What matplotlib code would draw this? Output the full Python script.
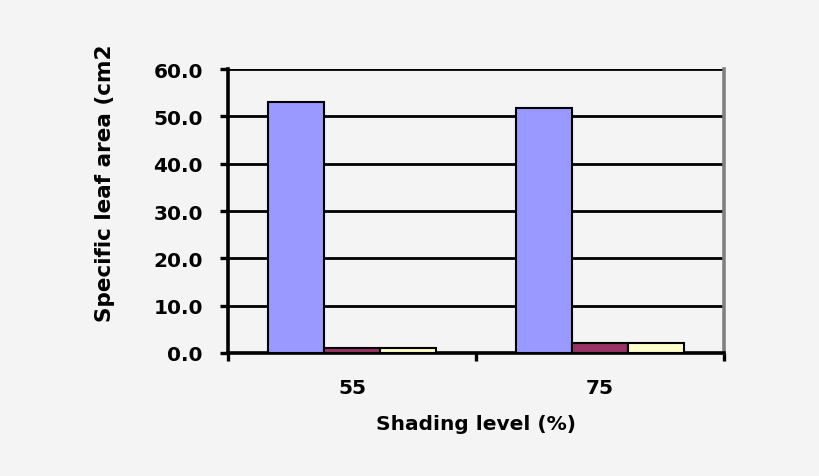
import numpy as np
import matplotlib
matplotlib.use("Agg")
import matplotlib.pyplot as plt

# datos
categorias = ["55", "75"]
serie_a = [53.0, 51.8]
serie_b = [1.0, 2.0]
serie_c = [1.0, 2.0]
colores = ["#9999FF", "#993366", "#FFFFCC"]
y_ticks = [0, 10, 20, 30, 40, 50, 60]

fondo = "#F4F4F4"
fs = 14.5

fig = plt.figure(figsize=(8.2, 4.77), dpi=100, facecolor=fondo)
ax = fig.add_axes([0.278, 0.258, 0.605, 0.595], facecolor=fondo)

x = np.arange(len(categorias)) + 0.5
ancho = 0.225
for k, serie in enumerate([serie_a, serie_b, serie_c]):
    ax.bar(x + (k - 1) * ancho, serie, width=ancho, color=colores[k],
           edgecolor="black", linewidth=1.5, zorder=3)

# grilla horizontal
for v in y_ticks[1:]:
    ax.axhline(v, color="black", linewidth=2.0, zorder=1)

ax.set_xlim(0, len(categorias))
ax.set_ylim(0, 60)
ax.set_yticks(y_ticks)
ax.set_yticklabels([f"{v:.1f}" for v in y_ticks], fontsize=fs, fontweight="bold")
ax.set_xticks(np.arange(len(categorias) + 1))
ax.set_xticklabels([])
ax.set_xticks(x, minor=True)
ax.set_xticklabels(categorias, minor=True, fontsize=fs, fontweight="bold")
ax.tick_params(axis="x", which="minor", length=0, pad=18)
ax.tick_params(axis="both", which="major", length=6, width=2.4, color="black")
ax.tick_params(axis="y", which="major", pad=12)

for s in ["left", "bottom"]:
    ax.spines[s].set_linewidth(2.6)
    ax.spines[s].set_color("black")
ax.spines["top"].set_visible(False)
ax.spines["right"].set_color("#808080")
ax.spines["right"].set_linewidth(2.6)

ax.set_xlabel("Shading level (%)", fontsize=fs, fontweight="bold", labelpad=12)
fig.text(0.128, 1 - 322 / 477, "Specific leaf area (cm2", rotation=90, ha="center",
         va="bottom", fontsize=15.5, fontweight="bold")

fig.savefig("out.png", dpi=100, facecolor=fondo)
